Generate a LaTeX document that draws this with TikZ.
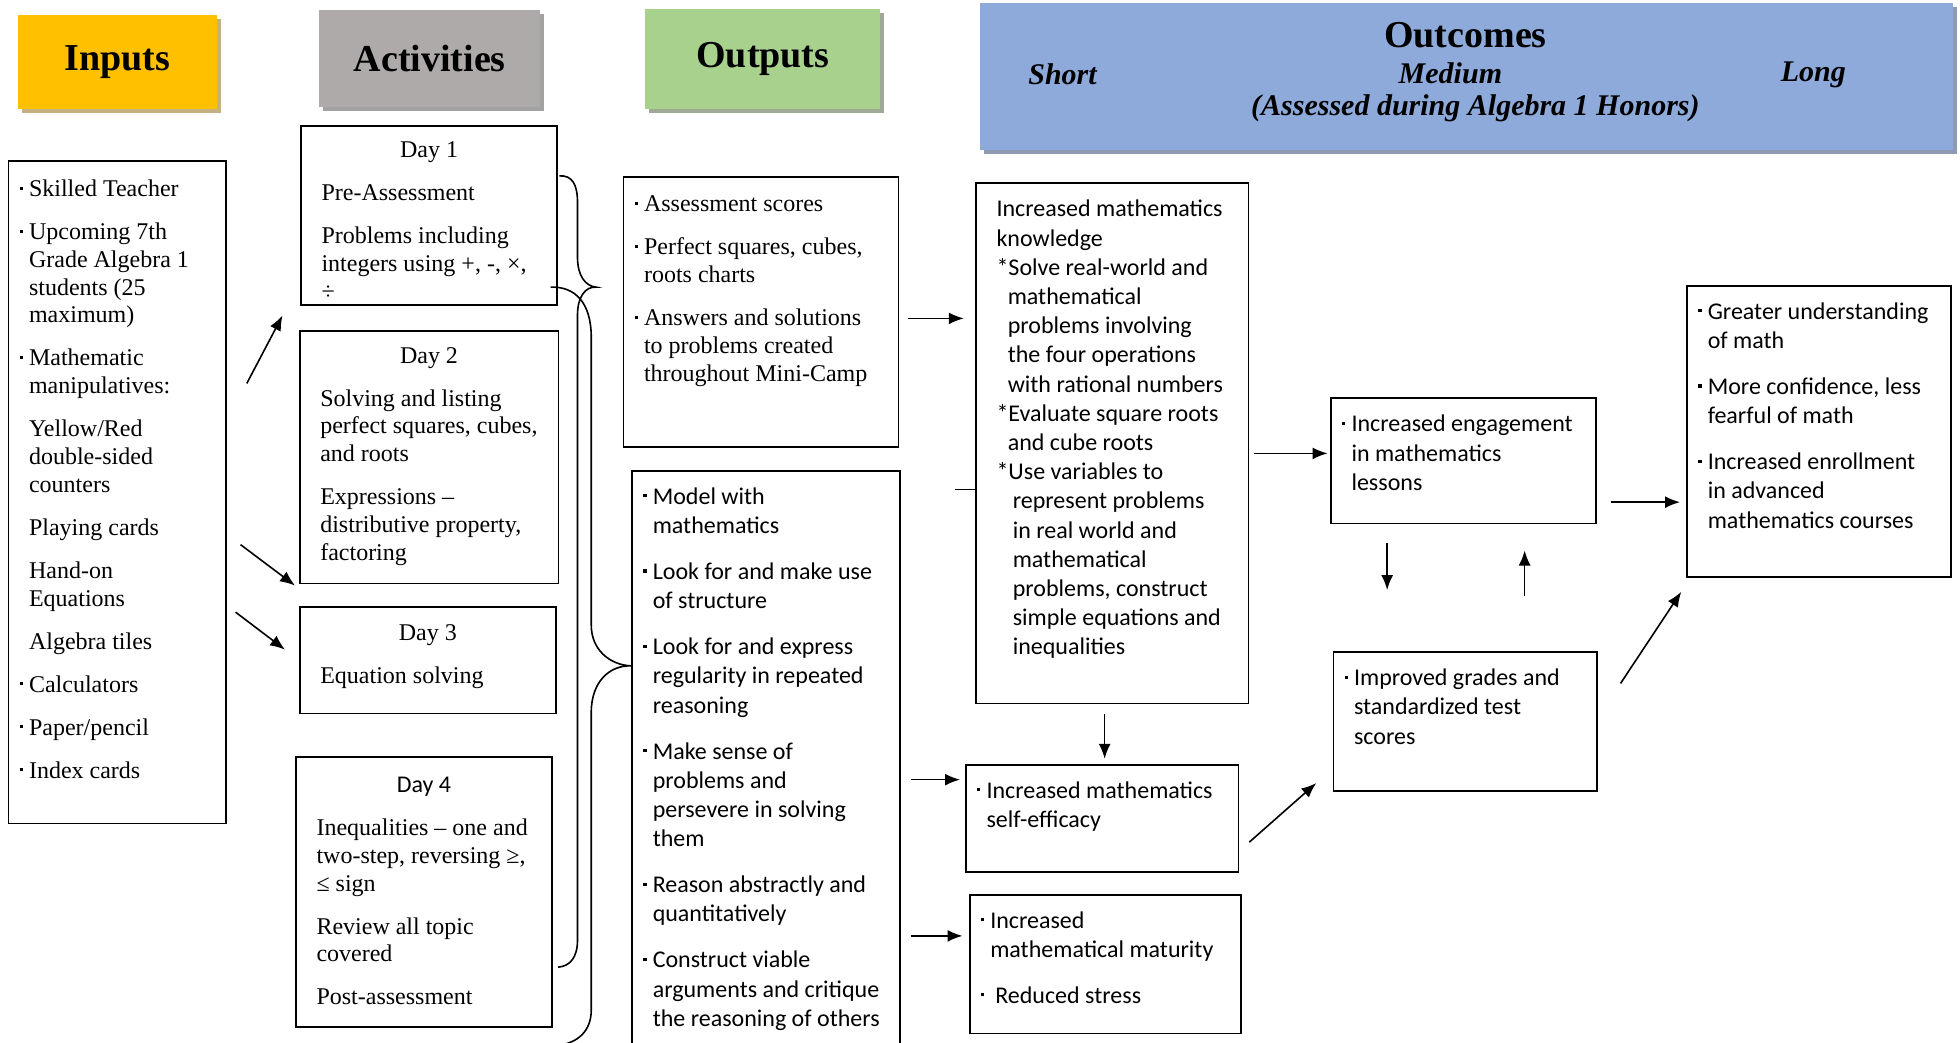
\documentclass[tikz,border=0pt]{standalone}
\usepackage{fontspec}
\setmainfont{Liberation Serif}
\newfontfamily\calibri{Carlito}
\usetikzlibrary{arrows.meta,calc,shadows}

\definecolor{inpcol}{HTML}{FFC000}
\definecolor{inpshd}{HTML}{C3B181}
\definecolor{actcol}{HTML}{AEAAAA}
\definecolor{actshd}{HTML}{A2A2A2}
\definecolor{outcol}{HTML}{A9D18E}
\definecolor{outshd}{HTML}{9EA996}
\definecolor{occol}{HTML}{8EAADB}
\definecolor{ocshd}{HTML}{8D9AB2}

\newlength\pxu
\setlength\pxu{0.625pt}
\newcommand\bul{\leavevmode\llap{\raisebox{0.6ex}{\rule{1.6pt}{1.6pt}}\hspace{5\pxu}}}
\newcommand\hcell[3]{\parbox[c][#2\pxu][c]{#1\pxu}{\centering\mbox{}#3}}
\newcommand\tcell[3]{\parbox[c][#2\pxu][t]{#1\pxu}{\fontsize{12}{13.9}\selectfont%
\setlength\parskip{7.6pt}\leftskip=16.5\pxu\rightskip=0pt plus 1fil%
\vspace*{3\pxu}#3}}
\newcommand\ccell[3]{\parbox[c][#2\pxu][t]{#1\pxu}{\calibri\fontsize{12}{14.6}\selectfont%
\setlength\parskip{8.4pt}\leftskip=16.5\pxu\rightskip=0pt plus 1fil%
\vspace*{0\pxu}#3}}

\begin{document}
\begin{tikzpicture}[x=0.625pt, y=-0.625pt,
    hdr/.style={anchor=north west, inner sep=0pt, font=\fontsize{19}{22}\selectfont\bfseries},
    shd/.style={drop shadow={shadow xshift=2pt, shadow yshift=-2pt, fill=#1, opacity=1}},
    htxt/.style={inner sep=0pt, font=\fontsize{19}{22}\selectfont\bfseries},
    sub/.style={inner sep=0pt, font=\fontsize{15}{18}\selectfont\bfseries\itshape},
    box/.style={draw, line width=0.9pt, anchor=north west, inner sep=0pt},
    arr/.style={-{Latex[length=7.5pt,width=6pt]}, line width=0.8pt},
    brc/.style={line width=0.8pt}]
            \useasboundingbox (0,0) rectangle (1568,834);
            % Headers
            \node[hdr, fill=inpcol, shd=inpshd] (inph) at (14,12) {\hcell{159}{75}{Inputs}};
            \node[hdr, fill=actcol, shd=actshd] (acth) at (255,8) {\hcell{177}{77}{Activities}};
            \node[hdr, fill=outcol, shd=outshd] (outh) at (516,7) {\hcell{188}{80}{Outputs}};
            \node[hdr, fill=occol, shd=ocshd] (outc) at (784,2) {\hcell{778}{118}{}};
            \node[htxt] (otitle) at ($(outc.north)+(-1,26)$) {Outcomes};
            \node[sub] (oshort) at ($(outc.north west)+(66,57)$) {Short};
            \node[sub] (omed) at ($(outc.north)+(-13,57)$) {Medium};
            \node[sub] (olong) at ($(outc.north east)+(-112,58)$) {Long};
            \node[sub] (oassess) at ($(outc.north)+(7,85)$) {(Assessed during Algebra 1 Honors)};
            % Nodes
            \node[box] (inp) at (6,128) {\tcell{174}{530}{%
                \bul Skilled Teacher\par
                \bul Upcoming 7th\\Grade Algebra 1\\students (25\\maximum)\par
                \bul Mathematic\\manipulatives:\par
                Yellow/Red\\double-sided\\counters\par
                Playing cards\par
                Hand-on\\Equations\par
                Algebra tiles\par
                \bul Calculators\par
                \bul Paper/pencil\par
                \bul Index cards}};
            \node[box] (day1) at (240,100) {\tcell{205}{143}{%
                \vspace*{10\pxu}\centerline{Day 1}\par
                Pre-Assessment\par
                Problems including\\integers using +, -, ×,\\÷}};
            \node[box] (day2) at (239,264) {\tcell{207}{202}{%
                \vspace*{10\pxu}\centerline{Day 2}\par
                Solving and listing\\perfect squares, cubes,\\and roots\par
                Expressions –\\distributive property,\\factoring}};
            \node[box] (day3) at (239,485) {\tcell{205}{85}{%
                \vspace*{11\pxu}\centerline{Day 3}\par
                Equation solving}};
            \node[box] (day4) at (236,605) {\tcell{205}{216}{%
                \vspace*{13\pxu}\centerline{\calibri Day 4}\par
                Inequalities – one and\\two-step, reversing ≥,\\≤ sign\par
                Review all topic\\covered\par
                Post-assessment}};
            \node[box] (out1) at (498,141) {\tcell{220}{216}{%
                \bul Assessment scores\par
                \bul Perfect squares, cubes,\\roots charts\par
                \bul Answers and solutions\\to problems created\\throughout Mini-Camp}};
            \node[box] (out2) at (505,376) {\ccell{214}{470}{%
                \bul Model with\\mathematics\par
                \bul Look for and make use\\of structure\par
                \bul Look for and express\\regularity in repeated\\reasoning\par
                \bul Make sense of\\problems and\\persevere in solving\\them\par
                \bul Reason abstractly and\\quantitatively\par
                \bul Construct viable\\arguments and critique\\the reasoning of others}};
            \node[box] (know) at (780,146) {\ccell{218}{416}{%
                Increased mathematics\\knowledge\\{}*Solve real-world and\\
                \hspace*{9\pxu}mathematical\\\hspace*{9\pxu}problems involving\\
                \hspace*{9\pxu}the four operations\\\hspace*{9\pxu}with rational numbers\\
                {}*Evaluate square roots\\\hspace*{9\pxu}and cube roots\\
                {}*Use variables to\\\hspace*{13\pxu}represent problems\\\hspace*{13\pxu}in real world and\\
                \hspace*{13\pxu}mathematical\\\hspace*{13\pxu}problems, construct\\
                \hspace*{13\pxu}simple equations and\\\hspace*{13\pxu}inequalities}};
            \node[box] (self) at (772,611) {\ccell{218}{86}{%
                \bul Increased mathematics\\self-efficacy}};
            \node[box] (mat) at (775,715) {\ccell{217}{111}{%
                \bul Increased\\mathematical maturity\par
                \bul\hspace{4\pxu}Reduced stress}};
            \node[box] (eng) at (1064,318) {\ccell{212}{100}{%
                \bul Increased engagement\\in mathematics\\lessons}};
            \node[box] (grd) at (1066,521) {\ccell{211}{111}{%
                \bul Improved grades and\\standardized test\\scores}};
            \node[box] (long) at (1349,228) {\ccell{211}{233}{%
                \bul Greater understanding\\of math\par
                \bul More confidence, less\\fearful of math\par
                \bul Increased enrollment\\in advanced\\mathematics courses}};
            % Edges
            \draw[arr] ($(inp.east)+(16,-87)$) -- ($(day1.south west)+(-14,8)$);
            \draw[arr] ($(inp.east)+(11,42)$) -- ($(day2.south west)+(-3,1)$);
            \draw[arr] ($(inp.east)+(7,96)$) -- ($(day3.west)+(-11,-8.5)$);
            \draw[arr] ($(out1.east)+(7,5)$) -- ($(know.west)+(-9,-100)$);
            \draw ($(know.west)+(-16,37)$) -- ($(know.west)+(0,37)$);
            \draw[arr] ($(out2.east)+(8,12)$) -- ($(self.west)+(-4,-31)$);
            \draw[arr] ($(out2.east)+(8,137)$) -- ($(mat.west)+(-5,-22.5)$);
            \draw[arr] ($(know.south)+(-6,8)$) -- ($(self.north)+(2,-4)$);
            \draw[arr] ($(know.east)+(4,8)$) -- ($(eng.west)+(-2,-6)$);
            \draw[arr] ($(eng.south)+(-61,15)$) -- ($(grd.north)+(-62.5,-49)$);
            \draw[arr] ($(grd.north)+(47.5,-44)$) -- ($(eng.south)+(49,21)$);
            \draw[arr] ($(self.east)+(8,19)$) -- ($(grd.south west)+(-13,-7)$);
            \draw[arr] ($(eng.east)+(11,33)$) -- ($(long.west)+(-5,56.5)$);
            \draw[arr] ($(grd.east)+(18,-30.5)$) -- ($(long.south west)+(-4,11)$);
            % Braces
            \draw[brc] ($(day1.east)+(1,-31.5)$) .. controls (458,140) and (462,148) .. (462,162)
                -- (462,206) .. controls (462,220) and (468,229) .. ($(out1.west)+(-21,-20)$)
                .. controls (468,229) and (462,238) .. (462,252)
                -- (462,752) .. controls (462,766) and (456,773) .. ($(day4.east)+(4,60)$);
            \draw[brc] ($(day1.east)+(-6,57.5)$) .. controls (460,229) and (473,242) .. (473,270)
                -- (473,500) .. controls (473,520) and (488,532) .. ($(out2.west)+(0,-79)$)
                .. controls (488,532) and (473,545) .. (473,570)
                -- (473,808) .. controls (473,825) and (462,834) .. (448,836);
\end{tikzpicture}
\end{document}
